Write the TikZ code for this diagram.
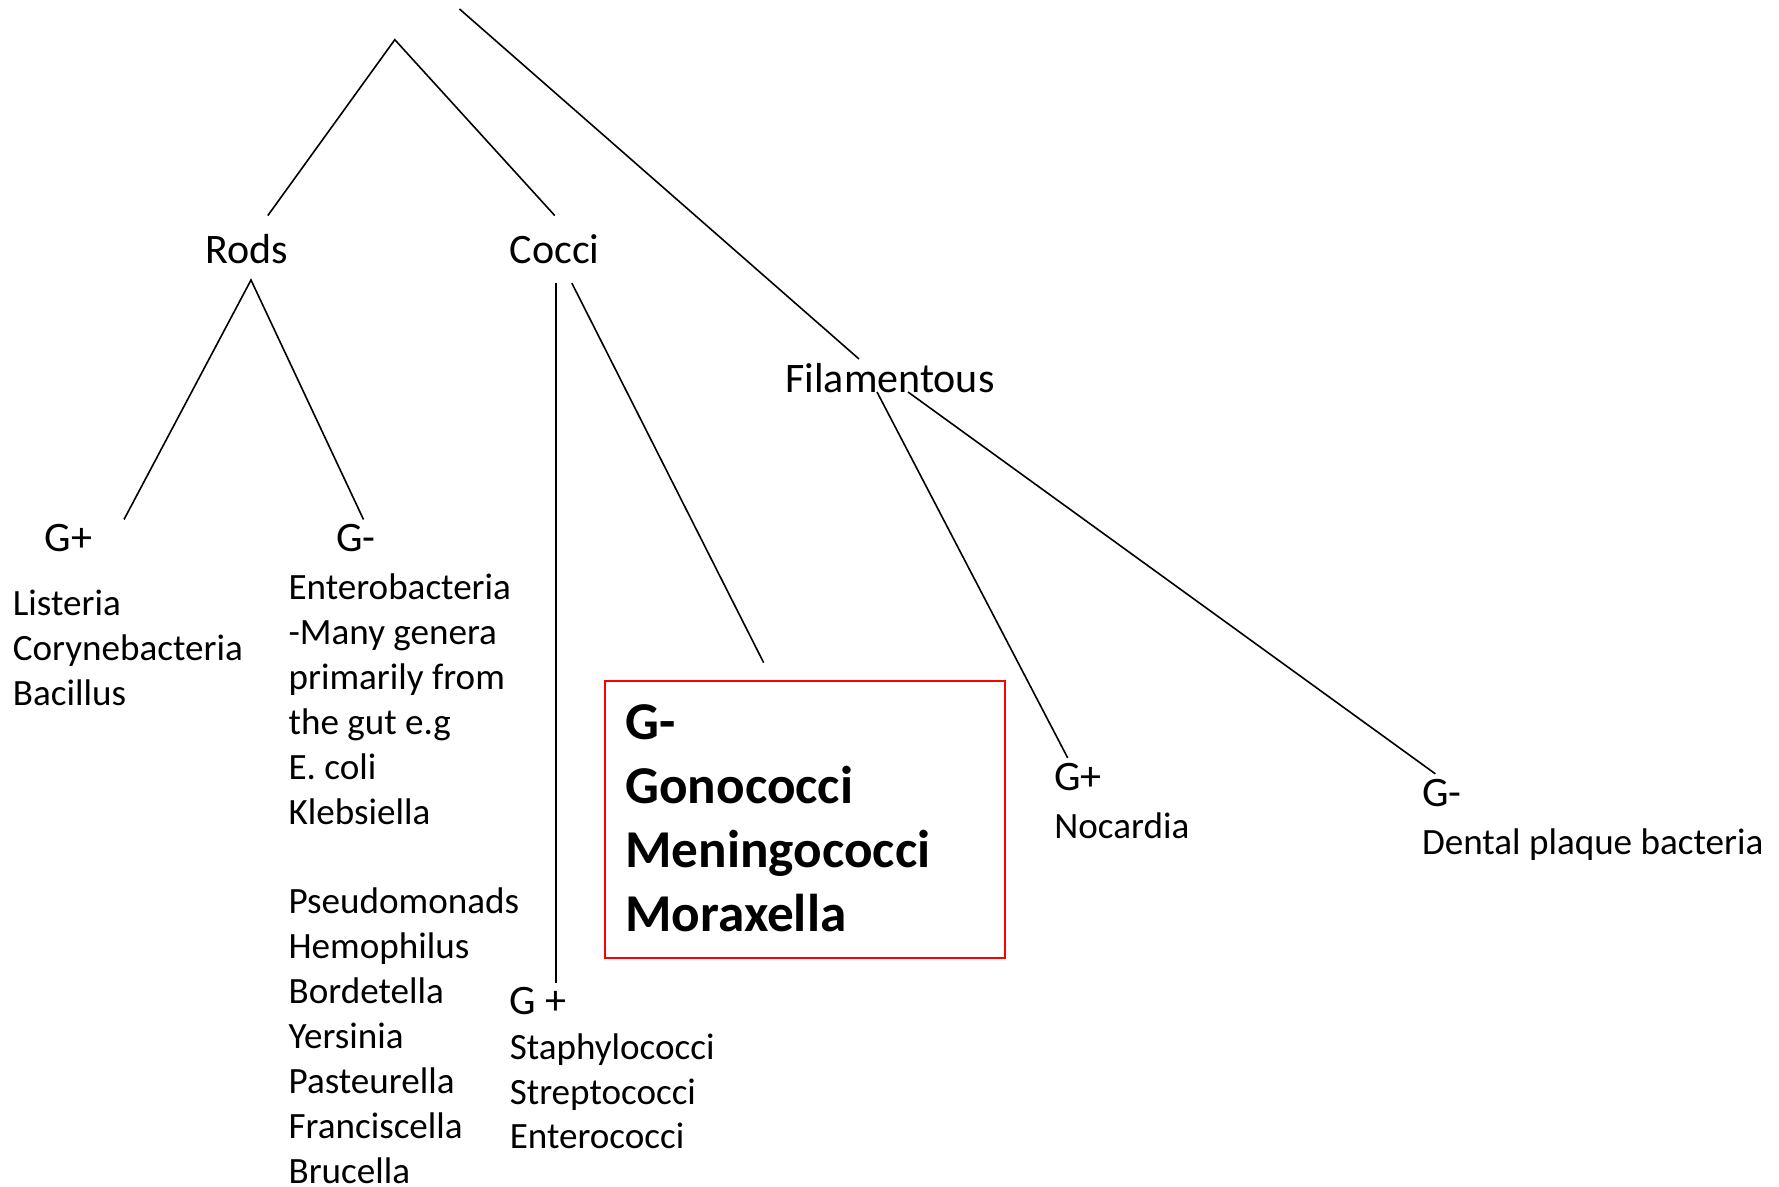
\documentclass[tikz,border=0pt]{standalone}
\usepackage{fontspec}
\setmainfont{Carlito}
\begin{document}
\begin{tikzpicture}[x=0.5pt,y=-0.5pt,
  conn/.style={line width=0.8pt, black},
  lbl/.style={font=\fontsize{21}{25}\selectfont, inner sep=0pt, anchor=base west},
  lst/.style={font=\fontsize{18.55}{22}\selectfont, inner sep=0pt, anchor=base west},
  bld/.style={font=\fontsize{26.6}{32}\selectfont\bfseries, inner sep=0pt, anchor=base west},
  redbox/.style={draw=red, line width=1.2pt, inner sep=0pt, anchor=north west, minimum width=200pt, minimum height=138.5pt}]
\useasboundingbox (0,0) rectangle (1779,1187);

% level labels
\node[lbl] (rods) at (205.4,264) {Rods};
\node[lbl] (cocci) at (509.4,264) {Cocci};
\node[lbl] (fil) at (785,393) {Filamentous};

% connector end points
\coordinate (top) at (459.5,9);
\coordinate (apex) at (394.8,39.7);
\coordinate (rodsT) at (267.8,215.6);
\coordinate (cocciT) at (554.8,215.6);
\coordinate (filT) at (859,359);
\coordinate (rodsB) at (251,280);
\coordinate (rgpT) at (124,519.5);
\coordinate (rgnT) at (363.5,519.5);
\coordinate (cvT) at (556,283);
\coordinate (cvB) at (556,982.6);
\coordinate (cdT) at (571.8,283);
\coordinate (cdB) at (763.6,662.6);
\coordinate (f1T) at (877,392);
\coordinate (f1B) at (1067.7,757.9);
\coordinate (f2T) at (908,392);
\coordinate (f2B) at (1435.3,773.8);

\draw[conn] (top) -- (filT);
\draw[conn] (rodsT) -- (apex) -- (cocciT);
\draw[conn] (rgpT) -- (rodsB) -- (rgnT);
\draw[conn] (cvT) -- (cvB);
\draw[conn] (cdT) -- (cdB);
\draw[conn] (f1T) -- (f1B);
\draw[conn] (f2T) -- (f2B);

% Rods G+
\node[lbl] (rgp) at (44.2,552) {G+};
\foreach \t [count=\i from 0] in {Listeria,Corynebacteria,Bacillus}
  \node[lst] (rgp\i) at (12.5,{616+44.85*\i}) {\t};

% Rods G-
\node[lbl] (rgn) at (335.8,552) {G-};
\foreach \t [count=\i from 0] in {Enterobacteria,-Many genera,primarily from,the gut e.g,E. coli,Klebsiella}
  \node[lst] (rgn\i) at (288.2,{600+44.85*\i}) {\t};
\foreach \t [count=\i from 7] in {Pseudomonads,Hemophilus,Bordetella,Yersinia,Pasteurella,Franciscella,Brucella}
  \node[lst] (rgn\i) at (288.2,{600+44.85*\i}) {\t};

% Cocci G+
\node[lbl] (cgp) at (509.4,1014.3) {G +};
\foreach \t [count=\i from 1] in {Staphylococci,Streptococci,Enterococci}
  \node[lst] (cgp\i) at (509.4,{1014.3+44.85*\i}) {\t};

% Cocci G- box
\node[redbox] (box) at (603.6,680) {};
\foreach \t [count=\i from 0] in {G-,Gonococci,Meningococci,Moraxella}
  \node[bld] (bx\i) at (625,{739.5+64.1*\i}) {\t};

% Filamentous
\node[lbl] (fgp) at (1054,790.8) {G+};
\node[lst] (noc) at (1054,838.5) {Nocardia};
\node[lbl] (fgn) at (1421.6,806.7) {G-};
\node[lst] (dent) at (1421.6,854.4) {Dental plaque bacteria};
\end{tikzpicture}
\end{document}
